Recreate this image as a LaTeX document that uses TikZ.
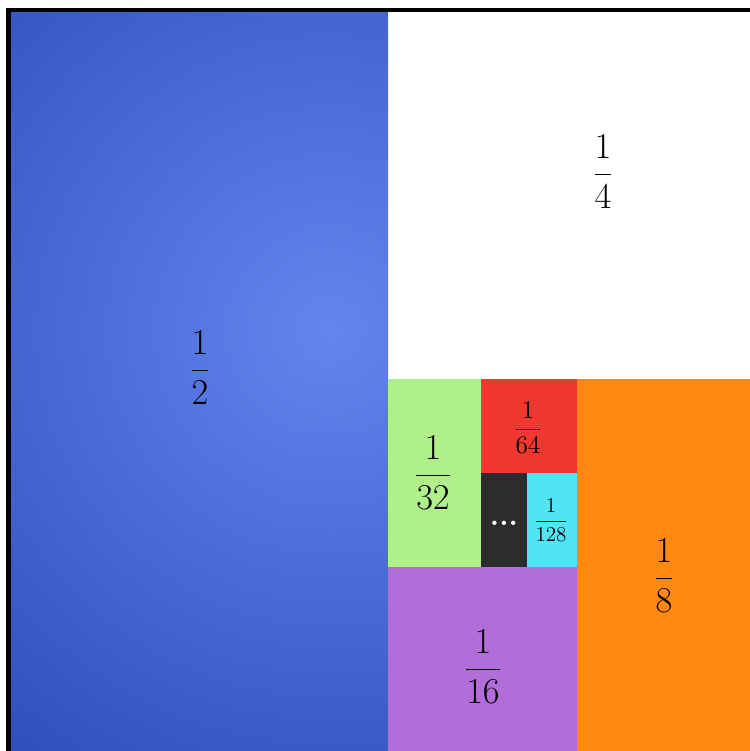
\documentclass[tikz,border=0pt]{standalone}
\usepackage{amsmath}
\usepackage{tikz}
\definecolor{halfdark}{RGB}{44,76,186}
\definecolor{halflight}{RGB}{100,132,238}
\definecolor{eighth}{RGB}{255,136,18}
\definecolor{sixteenth}{RGB}{178,110,216}
\definecolor{thirtysecond}{RGB}{176,240,140}
\definecolor{sixtyfourth}{RGB}{240,56,48}
\definecolor{onetwoeight}{RGB}{82,228,244}
\definecolor{rest}{RGB}{44,44,46}

\begin{document}
\begin{tikzpicture}[x=0.02cm,y=-0.02cm]
\tikzset{frame/.style = {line width=0.09cm, black}}
\tikzstyle{every node}=[font=\fontsize{22}{26}\selectfont]
\useasboundingbox (0,0) rectangle (750,751);
\fill [white] (0,0) rectangle (750,751);
% the half on the left
\begin{scope}
\clip (11,12) rectangle (388,751);
\shade [inner color=halflight, outer color=halfdark] (330,330) circle (560);
\end{scope}
% the other pieces
\fill [eighth] (577,379) rectangle (750,751);
\fill [sixteenth] (388,567) rectangle (577,751);
\fill [thirtysecond] (388,379) rectangle (481,567);
\fill [sixtyfourth] (481,379) rectangle (577,473);
\fill [rest] (481,473) rectangle (527,567);
\fill [onetwoeight] (527,473) rectangle (577,567);
\draw [frame] (8.5,751) -- (8.5,10) -- (750,10);
% labels
\node at (200,368)(half) {$\dfrac{1}{2}$};
\node at (603,172)(quarter) {$\dfrac{1}{4}$};
\node at (664,576)(eighthl) {$\dfrac{1}{8}$};
\node at (483,667)(sixteenthl) {$\dfrac{1}{16}$};
\node [font=\fontsize{20}{24}\selectfont] at (433,473)(thirtysecondl) {$\dfrac{1}{32}$};
\node [font=\fontsize{14.5}{17}\selectfont] at (528,428)(sixtyfourthl) {$\dfrac{1}{64}$};
\node [font=\fontsize{11.5}{14}\selectfont] at (551,520)(onetwoeightl) {$\dfrac{1}{128}$};
\node [font=\bfseries\fontsize{17}{18}\selectfont, text=white, inner sep=0pt] at (504,523)(restl) {...};
\end{tikzpicture}
\end{document}
